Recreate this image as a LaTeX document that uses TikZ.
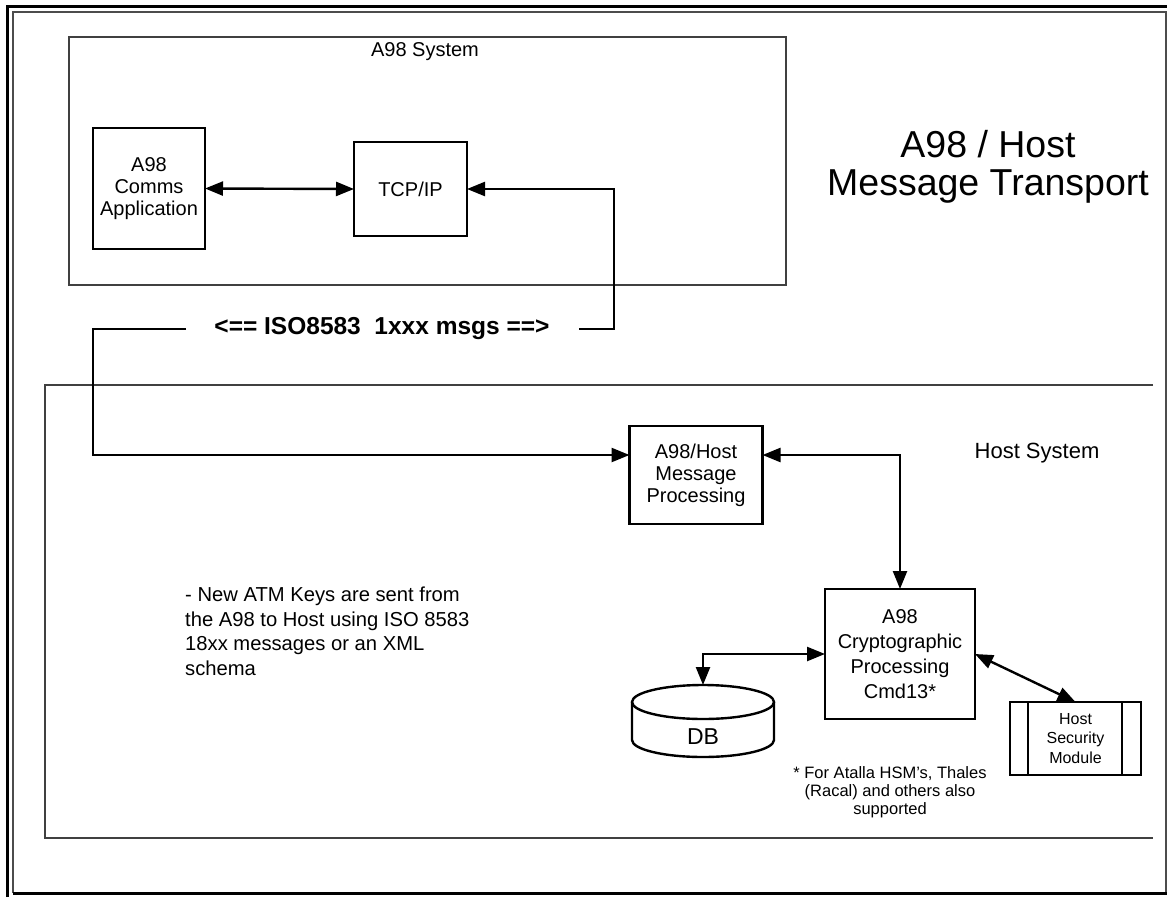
\documentclass[tikz,border=0pt]{standalone}
\usepackage{fontspec}
\setmainfont{Liberation Sans}
\usetikzlibrary{arrows.meta}
\usetikzlibrary{positioning}
\newcommand{\fsz}[2]{\fontsize{#1}{#2}\selectfont}

\begin{document}
\begin{tikzpicture}[x=1pt,y=-1pt,line join=miter,>={Triangle[length=18pt,width=14pt]},
  blk/.style={draw,line width=2.4pt,align=center,inner sep=0pt,outer sep=0pt,font=\fsz{20}{22}},
  grp/.style={draw=black!75,line width=1.3pt},
  con/.style={line width=2.4pt}]
\useasboundingbox (0,0) rectangle (1167,897);
% frame
\draw[line width=3pt] (7,897) -- (7,6) -- (1167,6);
\draw[line width=1.5pt,color=black!70] (13,893) -- (13,12) -- (1166,12) -- (1166,893);
\draw[line width=3pt] (13,893) -- (1167,893);
% the two systems
\node[grp,minimum width=717pt,minimum height=248pt,outer sep=0pt] (a98sys) at (427.5,161) {};
\node[font=\fsz{20}{22}] (a98lbl) at (425,52) {A98 System};
\draw[grp] (1153,385) -- (45,385) -- (45,838) -- (1153,838);
\node[font=\fsz{22}{24}] (hostlbl) at (1037,453) {Host System};
\node[font=\fsz{37.5}{38},align=center] (title) at (988,167) {A98 / Host\\Message Transport};
% blocks
\node[blk,minimum width=112pt,minimum height=121pt] (comms) at (149,188.5) {A98\\Comms\\Application};
\node[blk,minimum width=113pt,minimum height=94pt] (tcp) at (410.5,189) {TCP/IP};
\node[blk,minimum width=133pt,minimum height=98pt] (msgproc) at (696,475) {A98/Host\\Message\\Processing};
\node[blk,minimum width=150pt,minimum height=130pt,font=\fsz{20}{25}] (crypto) at (900,654) {A98\\Cryptographic\\Processing\\Cmd13*};
% database drum
\draw[line width=2.4pt] (632,702) -- (632,740) arc[start angle=180,end angle=360,x radius=71pt,y radius=17pt] -- (774,702);
\draw[line width=2.4pt] (703,702) ellipse[x radius=71pt,y radius=17pt];
\coordinate (dbtop) at (703,685);
\node[font=\fsz{23}{25}] (db) at (703,737) {DB};
\node[blk,minimum width=131pt,minimum height=73pt,font=\fsz{16}{19.5}] (hsm) at (1075.5,738.5) {Host\\Security\\Module};
\draw[line width=2.4pt] ([xshift=18pt]hsm.north west) -- ([xshift=18pt]hsm.south west);
\draw[line width=2.4pt] ([xshift=-19pt]hsm.north east) -- ([xshift=-19pt]hsm.south east);
% texts
\node[font=\bfseries\fsz{24.5}{26}] (iso) at (382,329) {<== ISO8583~~1xxx msgs ==>};
\node[font=\fsz{20.2}{24.5},align=left,anchor=north west,inner sep=0pt] (note) at (185,587)
  {- New ATM Keys are sent from\\the A98 to Host using ISO 8583\\18xx messages or an XML\\schema};
\node[font=\fsz{16.5}{18},align=center] (fnote) at (890,792) {* For Atalla HSM’s, Thales\\(Racal) and others also\\supported};
% connectors
\coordinate (isoR) at (579,329);
\coordinate (isoL) at (186,329);
\coordinate (ttr) at (614,329);
\coordinate (tbl) at (93,455);
\draw[con,<->] (comms.east) -- (tcp.west);
\draw[con,<-] (tcp.east) -| (ttr) -- (isoR);
\draw[con,->] (isoL) -| (tbl) -- ([yshift=20pt]msgproc.west);
\draw[con,<->] ([yshift=20pt]msgproc.east) -| (crypto.north);
\draw[con,<->] (crypto.west) -| (dbtop);
\draw[con,<->] (crypto.east) -- (hsm.north);
\end{tikzpicture}
\end{document}
